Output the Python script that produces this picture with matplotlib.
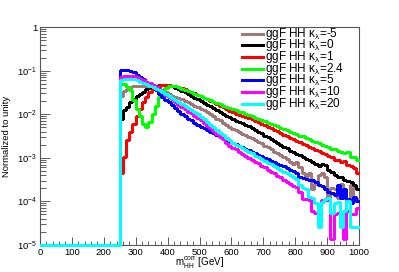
import numpy as np
import matplotlib
matplotlib.use("Agg")
import matplotlib.pyplot as plt
from matplotlib.lines import Line2D
from matplotlib.ticker import FixedLocator, FuncFormatter, MultipleLocator

plt.rcParams["font.family"] = ["Liberation Sans", "DejaVu Sans"]
plt.rcParams["mathtext.fontset"] = "custom"
plt.rcParams["mathtext.rm"] = "Liberation Sans"
plt.rcParams["mathtext.it"] = "Liberation Sans:italic"

# bin edges of the histograms (GeV); everything below 250 GeV is empty
edges = np.arange(0, 1010, 10)
n_empty = 25

# log10 of the normalised bin contents, bins 250 ... 990 GeV
kl_m5 = [-1.57, -1.47, -1.41, -1.37, -1.36, -1.35, -1.35, -1.35, -1.36, -1.37,
         -1.39, -1.41, -1.44, -1.47, -1.50, -1.54, -1.57, -1.60, -1.63, -1.66,
         -1.69, -1.72, -1.76, -1.80, -1.83, -1.87, -1.91, -1.95, -1.99, -2.04,
         -2.10, -2.14, -2.19, -2.24, -2.29, -2.33, -2.37, -2.41, -2.45, -2.48,
         -2.52, -2.54, -2.59, -2.63, -2.67, -2.72, -2.76, -2.80, -2.86, -2.88,
         -2.94, -2.98, -3.03, -3.10, -3.14, -3.10, -3.22, -3.34, -3.43, -3.34,
         -3.71, -3.60, -3.40, -3.36, -3.45, -3.94, -3.70, -3.72, -3.92, -3.60,
         -3.92, -3.98, -3.62, -4.00, -3.95]
kl_0 = [-2.10, -1.91, -1.84, -1.72, -1.64, -1.57, -1.53, -1.49, -1.43, -1.39,
        -1.36, -1.34, -1.33, -1.33, -1.33, -1.34, -1.36, -1.39, -1.42, -1.46,
        -1.50, -1.54, -1.58, -1.62, -1.66, -1.70, -1.74, -1.78, -1.82, -1.86,
        -1.90, -1.95, -1.99, -2.03, -2.07, -2.11, -2.15, -2.18, -2.21, -2.24,
        -2.28, -2.31, -2.36, -2.40, -2.44, -2.49, -2.53, -2.57, -2.62, -2.66,
        -2.70, -2.75, -2.78, -2.84, -2.87, -2.91, -2.94, -2.98, -3.02, -3.06,
        -3.10, -3.14, -3.18, -3.14, -3.16, -3.28, -3.32, -3.40, -3.45, -3.44,
        -3.50, -3.53, -3.56, -3.62, -3.71]
kl_1 = [-3.35, -2.99, -2.60, -2.41, -2.22, -2.03, -1.87, -1.72, -1.61, -1.50,
        -1.42, -1.38, -1.35, -1.33, -1.33, -1.33, -1.34, -1.35, -1.37, -1.40,
        -1.43, -1.46, -1.49, -1.52, -1.56, -1.59, -1.62, -1.66, -1.69, -1.73,
        -1.76, -1.80, -1.84, -1.88, -1.92, -1.96, -1.99, -2.01, -2.04, -2.06,
        -2.09, -2.11, -2.15, -2.18, -2.22, -2.25, -2.29, -2.32, -2.36, -2.39,
        -2.43, -2.47, -2.50, -2.54, -2.57, -2.61, -2.64, -2.68, -2.71, -2.75,
        -2.78, -2.82, -2.85, -2.88, -2.92, -2.96, -2.98, -3.04, -3.05, -3.10,
        -3.08, -3.16, -3.20, -3.24, -3.36]
kl_2p4 = [-1.30, -1.30, -1.37, -1.45, -1.68, -1.88, -2.03, -2.22, -2.30, -2.18,
          -1.99, -1.80, -1.60, -1.46, -1.39, -1.35, -1.35, -1.36, -1.38, -1.41,
          -1.44, -1.47, -1.50, -1.53, -1.56, -1.59, -1.62, -1.65, -1.67, -1.71,
          -1.74, -1.77, -1.80, -1.83, -1.85, -1.88, -1.91, -1.94, -1.96, -1.99,
          -2.02, -2.04, -2.08, -2.10, -2.14, -2.16, -2.19, -2.22, -2.25, -2.28,
          -2.31, -2.34, -2.37, -2.40, -2.43, -2.45, -2.49, -2.51, -2.55, -2.57,
          -2.61, -2.63, -2.67, -2.70, -2.72, -2.76, -2.79, -2.81, -2.85, -2.87,
          -2.88, -2.86, -2.99, -2.99, -3.06]
kl_5 = [-0.99, -0.99, -0.99, -1.01, -1.04, -1.10, -1.14, -1.20, -1.25, -1.31,
        -1.37, -1.45, -1.53, -1.60, -1.67, -1.73, -1.79, -1.86, -1.93, -1.99,
        -2.05, -2.10, -2.14, -2.19, -2.25, -2.29, -2.32, -2.36, -2.40, -2.44,
        -2.48, -2.51, -2.55, -2.58, -2.62, -2.65, -2.69, -2.72, -2.76, -2.79,
        -2.83, -2.86, -2.90, -2.93, -2.96, -3.00, -3.03, -3.07, -3.10, -3.14,
        -3.17, -3.20, -3.24, -3.27, -3.30, -3.36, -3.45, -3.47, -3.48, -3.50,
        -3.50, -3.55, -3.62, -3.66, -3.72, -3.78, -3.80, -3.85, -3.62, -3.92,
        -3.72, -3.95, -4.05, -3.90, -4.00]
kl_10 = [-1.14, -1.11, -1.11, -1.11, -1.13, -1.15, -1.18, -1.21, -1.25, -1.29,
         -1.33, -1.38, -1.43, -1.49, -1.55, -1.60, -1.66, -1.72, -1.79, -1.84,
         -1.89, -1.94, -1.98, -2.03, -2.08, -2.13, -2.19, -2.26, -2.32, -2.39,
         -2.45, -2.52, -2.58, -2.65, -2.72, -2.77, -2.81, -2.86, -2.91, -2.95,
         -3.00, -3.04, -3.09, -3.13, -3.18, -3.22, -3.27, -3.32, -3.36, -3.41,
         -3.45, -3.50, -3.55, -3.60, -3.64, -3.68, -3.79, -3.94, -3.94, -3.96,
         -4.22, -4.26, -4.51, -3.98, -3.98, -3.98, -4.86, -4.30, -4.26, -4.40,
         -4.86, -4.22, -4.30, -4.30, -4.16]
kl_20 = [-1.22, -1.18, -1.18, -1.18, -1.20, -1.22, -1.25, -1.28, -1.31, -1.34,
         -1.38, -1.41, -1.45, -1.49, -1.53, -1.58, -1.63, -1.67, -1.71, -1.77,
         -1.81, -1.86, -1.90, -1.95, -2.00, -2.06, -2.12, -2.18, -2.24, -2.30,
         -2.36, -2.42, -2.48, -2.54, -2.60, -2.66, -2.70, -2.74, -2.78, -2.82,
         -2.86, -2.90, -2.95, -2.99, -3.03, -3.07, -3.11, -3.15, -3.20, -3.24,
         -3.28, -3.32, -3.36, -3.40, -3.44, -3.48, -3.62, -3.70, -3.72, -3.90,
         -3.92, -4.05, -4.59, -4.02, -3.95, -3.92, -4.26, -4.05, -4.02, -4.59,
         -4.22, -4.00, -4.59, -4.59, -4.59]

labels = ["-5", "0", "1", "2.4", "5", "10", "20"]
series = [kl_m5, kl_0, kl_1, kl_2p4, kl_5, kl_10, kl_20]
colors = ["#a07878", "black", "#ff0000", "#00ff00", "#0000ff", "#ff00ff", "#00ffff"]

ymin, ymax = 1e-5, 1.0

W, H = 399, 272
fig = plt.figure(figsize=(W / 100, H / 100), dpi=100)
# ROOT default pad margins of 10 % on every side
ax = fig.add_axes([0.1, 0.1, 0.8, 0.8])

for z, (lab, vals, col) in enumerate(zip(labels, series, colors)):
    h = np.concatenate([np.zeros(n_empty), 10.0 ** np.array(vals)])
    # empty bins are drawn on the lower frame, like ROOT does
    h = np.clip(h, ymin, None)
    ax.stairs(h, edges, baseline=None, color=col, lw=1.0, antialiased=False,
              clip_on=False, zorder=3 + z)

ax.set_yscale("log")
ax.set_xlim(0, 1000)
ax.set_ylim(ymin, ymax)

ax.xaxis.set_major_locator(MultipleLocator(100))
ax.xaxis.set_minor_locator(MultipleLocator(20))
ax.yaxis.set_major_locator(FixedLocator([1e-5, 1e-4, 1e-3, 1e-2, 1e-1, 1]))
ax.yaxis.set_minor_locator(FixedLocator(
    [m * 10.0 ** e for e in range(-5, 0) for m in range(2, 10)]))


def ylab(v, pos):
    if v >= 1:
        return "1"
    return r"$10^{%d}$" % int(round(np.log10(v)))


ax.yaxis.set_major_formatter(FuncFormatter(ylab))
ax.tick_params(which="both", direction="in", top=False, right=False,
               labelsize=6.8, color="#444444", width=0.6, pad=2)
ax.tick_params(axis="x", which="major", length=6)
ax.tick_params(axis="x", which="minor", length=3)
ax.tick_params(axis="y", which="major", length=7)
ax.tick_params(axis="y", which="minor", length=4)
for s in ax.spines.values():
    s.set_color("#555555")
    s.set_linewidth(0.8)

ax.set_ylabel("Normalized to unity", fontsize=6.8)
ax.yaxis.set_label_coords(-0.09, 0.5)
ax.set_xlabel(r"$\mathregular{m_{HH}^{corr}}$ [GeV]", fontsize=7, va="center")
ax.xaxis.set_label_coords(0.5, -0.085)

# legend, ROOT style: one row per sample, no frame
for i, (lab, col) in enumerate(zip(labels, colors)):
    yc = 1 - (33.5 + 11.67 * i) / H
    fig.add_artist(Line2D([242 / W, 263 / W], [yc, yc], color=col, lw=1.0,
                          antialiased=False, transform=fig.transFigure))
    fig.text(265 / W, yc, r"ggF HH $\mathregular{κ_{λ}}$=" + lab,
             fontsize=8.5, ha="left", va="center")

fig.savefig("out.png", dpi=100)
